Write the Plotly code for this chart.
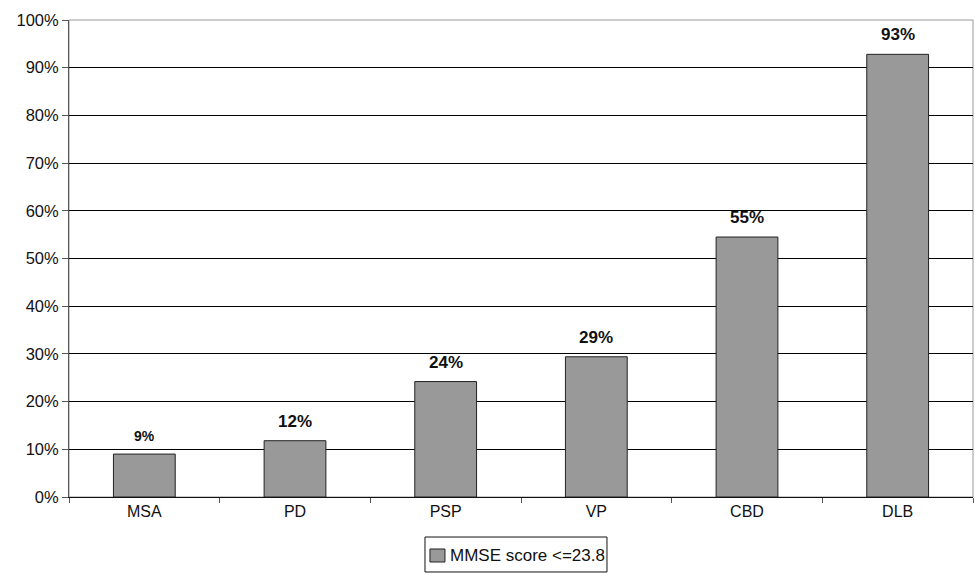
import plotly.graph_objects as go

categories = ["MSA", "PD", "PSP", "VP", "CBD", "DLB"]
values = [0.09, 0.118, 0.242, 0.294, 0.545, 0.928]
labels = ["9%", "12%", "24%", "29%", "55%", "93%"]
label_sizes = [14, 17, 17, 17, 17, 17]
series_name = "MMSE score <=23.8"
FONT = "Liberation Sans, Arial, Helvetica, sans-serif"

fig = go.Figure()
fig.add_trace(go.Bar(
    x=categories, y=values, name=series_name,
    marker=dict(color="#999999", line=dict(color="#222222", width=1)),
    width=0.41, showlegend=False,
))

for cat, val, lab, size in zip(categories, values, labels, label_sizes):
    fig.add_annotation(x=cat, y=val, text=f"<b>{lab}</b>", showarrow=False,
                       yanchor="bottom", yshift=8,
                       font=dict(family=FONT, size=size, color="#111111"))

fig.update_layout(
    width=975, height=573,
    margin=dict(l=69, r=2, t=20, b=76, autoexpand=False),
    paper_bgcolor="white", plot_bgcolor="white",
    font=dict(family=FONT, size=16, color="#111111"),
    showlegend=False,
)
fig.update_yaxes(range=[0, 1], tickvals=[i / 10 for i in range(11)],
                 ticktext=[f"{i*10}%" for i in range(11)],
                 showgrid=True, gridcolor="#000000", gridwidth=1,
                 showline=True, linecolor="#555555", linewidth=1,
                 ticks="outside", ticklen=6, tickcolor="#555555",
                 zeroline=False, automargin=False, tickfont=dict(size=16.5))
fig.update_xaxes(showline=True, linecolor="#111111", linewidth=1,
                 ticks="outside", ticklen=5, tickcolor="#555555",
                 tickson="boundaries", showgrid=False, automargin=False,
                 tickfont=dict(size=16))
# plot border (grey)
fig.add_shape(type="rect", xref="paper", yref="paper", x0=0, x1=1, y0=0, y1=1,
              line=dict(color="#999999", width=1), layer="below")
# legend box
fig.add_shape(type="rect", xref="paper", yref="paper", x0=0.3938, x1=0.5951,
              y0=-0.1572, y1=-0.0839, line=dict(color="#111111", width=1),
              fillcolor="white")
fig.add_shape(type="rect", xref="paper", yref="paper", x0=0.3993, x1=0.4159,
              y0=-0.1363, y1=-0.1090, line=dict(color="#222222", width=1),
              fillcolor="#999999")
fig.add_annotation(xref="paper", yref="paper", x=0.4192, y=-0.1216,
                   xanchor="left", yanchor="middle", showarrow=False,
                   text=series_name, font=dict(family=FONT, size=17, color="#111111"))

fig.write_html("out.html", config={"displayModeBar": False},
               post_script="document.body.style.margin='0';document.body.style.overflow='hidden';")
